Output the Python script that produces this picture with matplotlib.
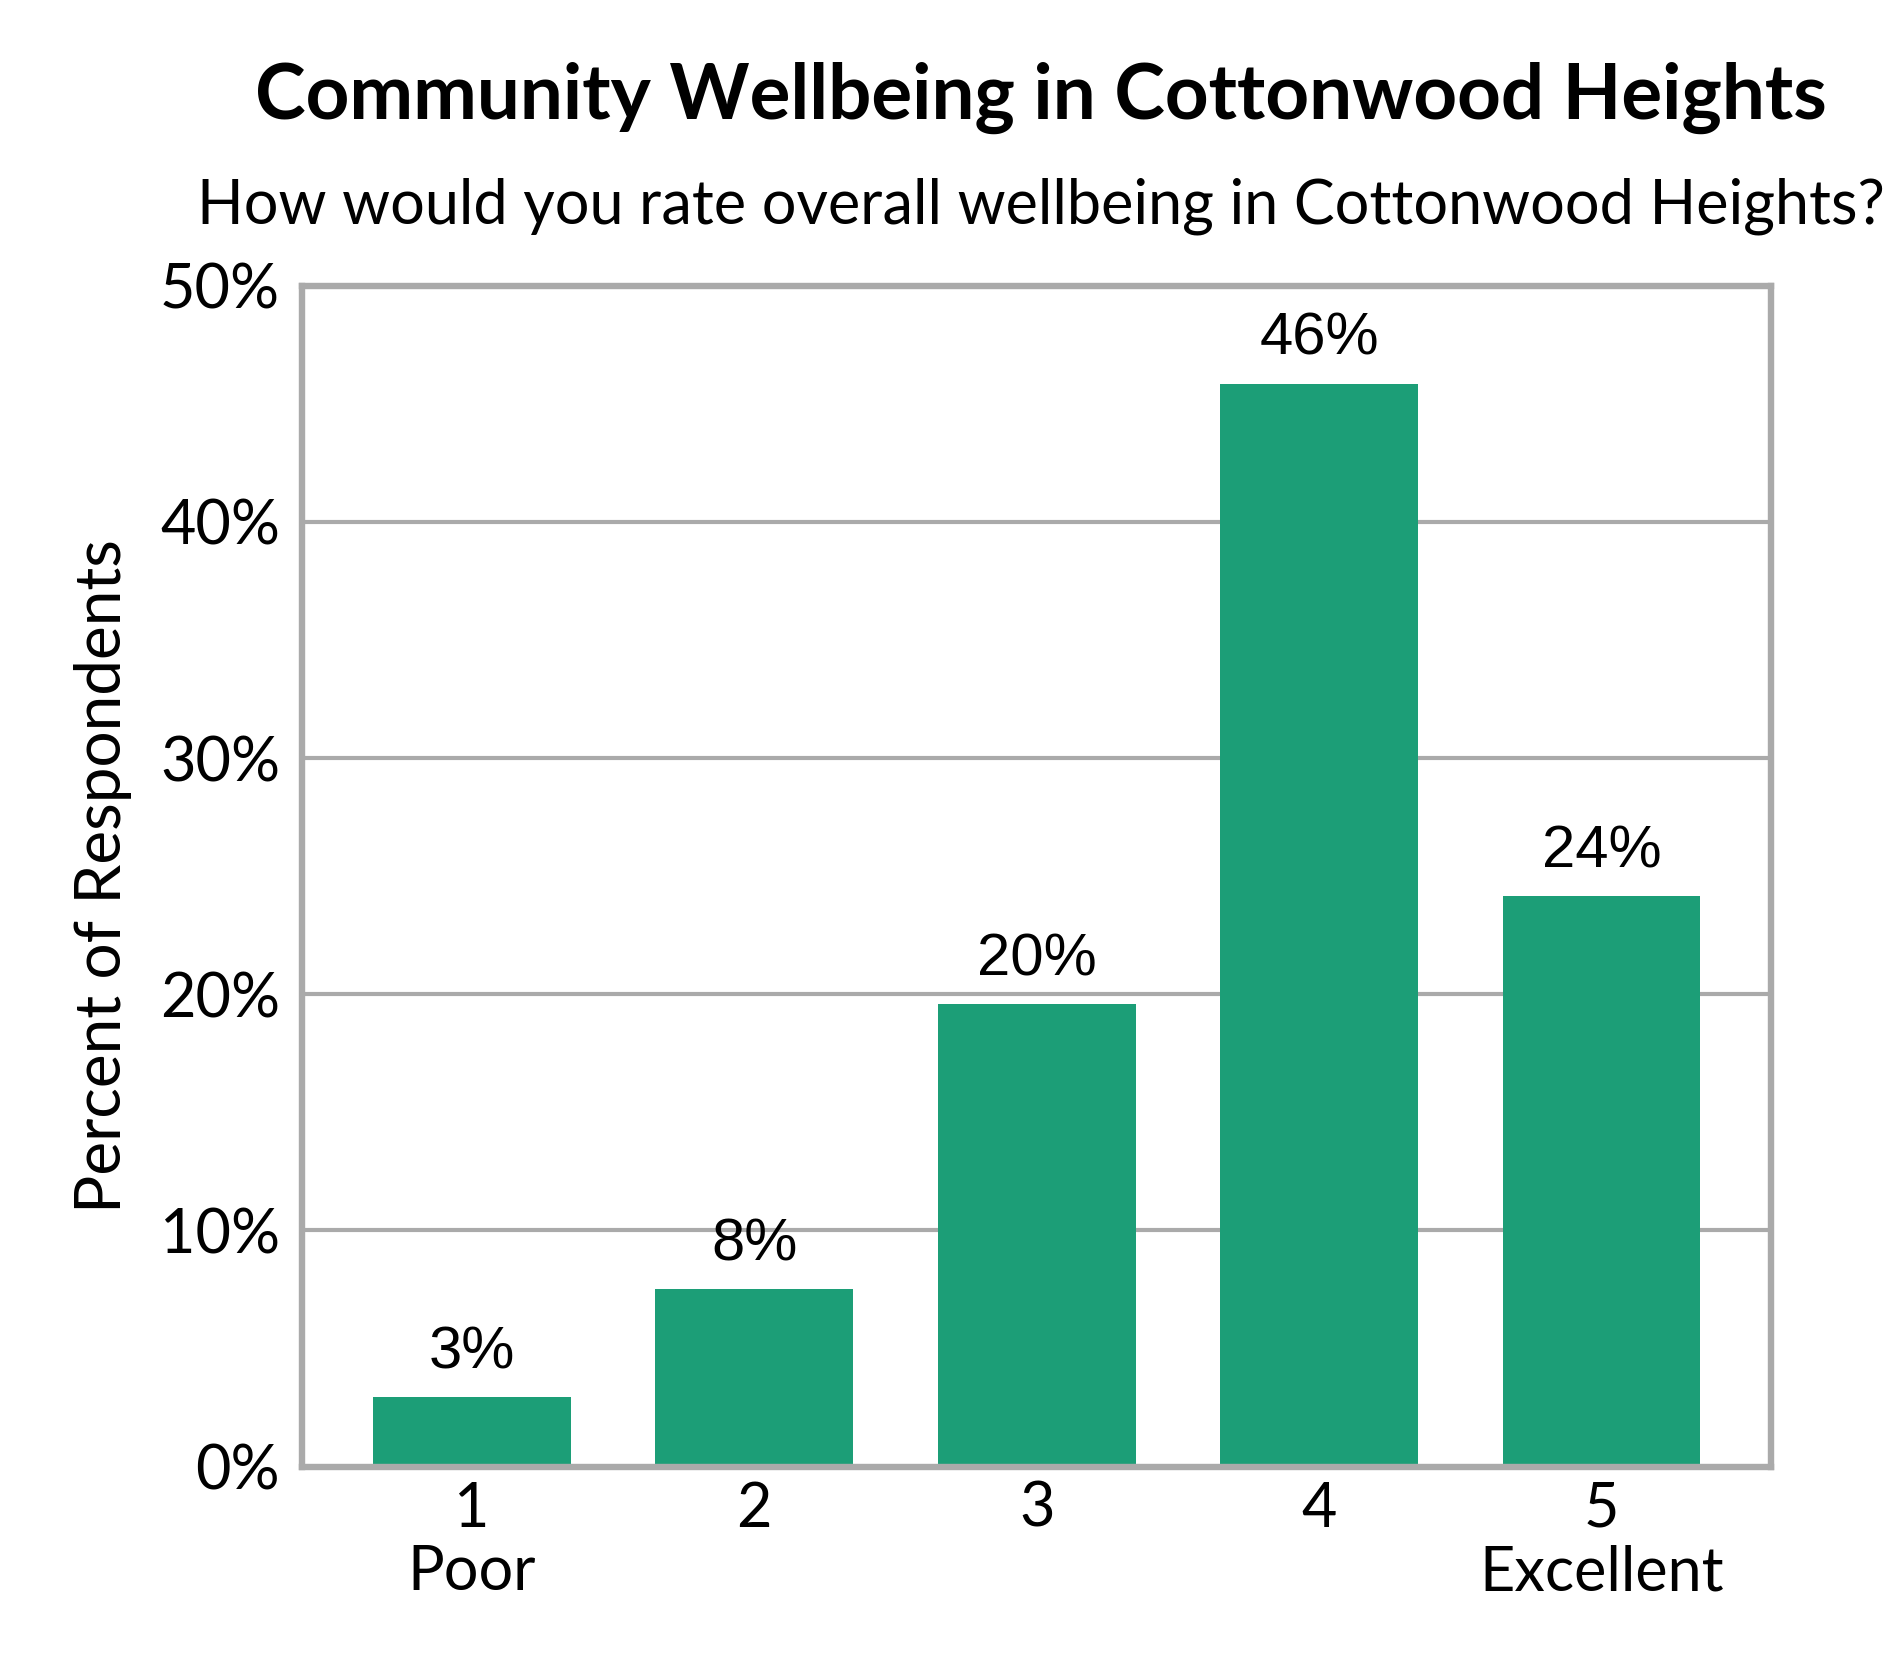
"""
Community wellbeing bar chart
"""
import matplotlib
matplotlib.use("Agg")
import matplotlib.pyplot as plt
from matplotlib.ticker import FuncFormatter

ratings = ["1\nPoor", "2", "3", "4", "5\nExcellent"]
percents = [2.96, 7.5, 19.6, 45.85, 24.15]
labels = ["3%", "8%", "20%", "46%", "24%"]
yticks = [0, 10, 20, 30, 40, 50]

BAR_COLOR = "#1c9e77"
GRID_COLOR = "#aaaaaa"


def main():
    """
    main wrapper function
    """
    plt.rcParams["font.family"] = ["Lato", "DejaVu Sans"]
    fig = plt.figure(figsize=(9.45, 8.4), dpi=200)
    axes = fig.add_axes([0.160, 0.127, 0.777, 0.703])

    xpos = list(range(len(ratings)))
    axes.bar(xpos, percents, width=0.70, color=BAR_COLOR, zorder=3)

    for xval, yval, text in zip(xpos, percents, labels):
        axes.annotate(text, (xval, yval), xytext=(0, 6), textcoords="offset points",
                      ha="center", va="bottom", fontsize=21.5,
                      family=["Liberation Sans", "DejaVu Sans"])

    axes.set_xlim(-0.6, 4.6)
    axes.set_ylim(0, 50)
    axes.set_yticks(yticks)
    axes.yaxis.set_major_formatter(FuncFormatter(lambda v, p: f"{v:.0f}%"))
    axes.set_xticks(xpos)
    axes.set_xticklabels(ratings, linespacing=1.15)
    axes.tick_params(axis="both", length=0, labelsize=22)
    axes.tick_params(axis="x", pad=5)
    axes.tick_params(axis="y", pad=8)
    axes.grid(axis="y", color=GRID_COLOR, linewidth=1.5, zorder=0)
    for spine in axes.spines.values():
        spine.set_color(GRID_COLOR)
        spine.set_linewidth(2.3)
        spine.set_zorder(4)

    axes.set_ylabel("Percent of Respondents", fontsize=23, labelpad=10)

    fig.text(0.551, 0.942, "Community Wellbeing in Cottonwood Heights",
             ha="center", va="center", fontsize=27.5, fontweight="bold")
    fig.text(0.551, 0.877, "How would you rate overall wellbeing in Cottonwood Heights?",
             ha="center", va="center", fontsize=22)

    fig.savefig("out.png", dpi=200)


if __name__ == "__main__":
    main()
